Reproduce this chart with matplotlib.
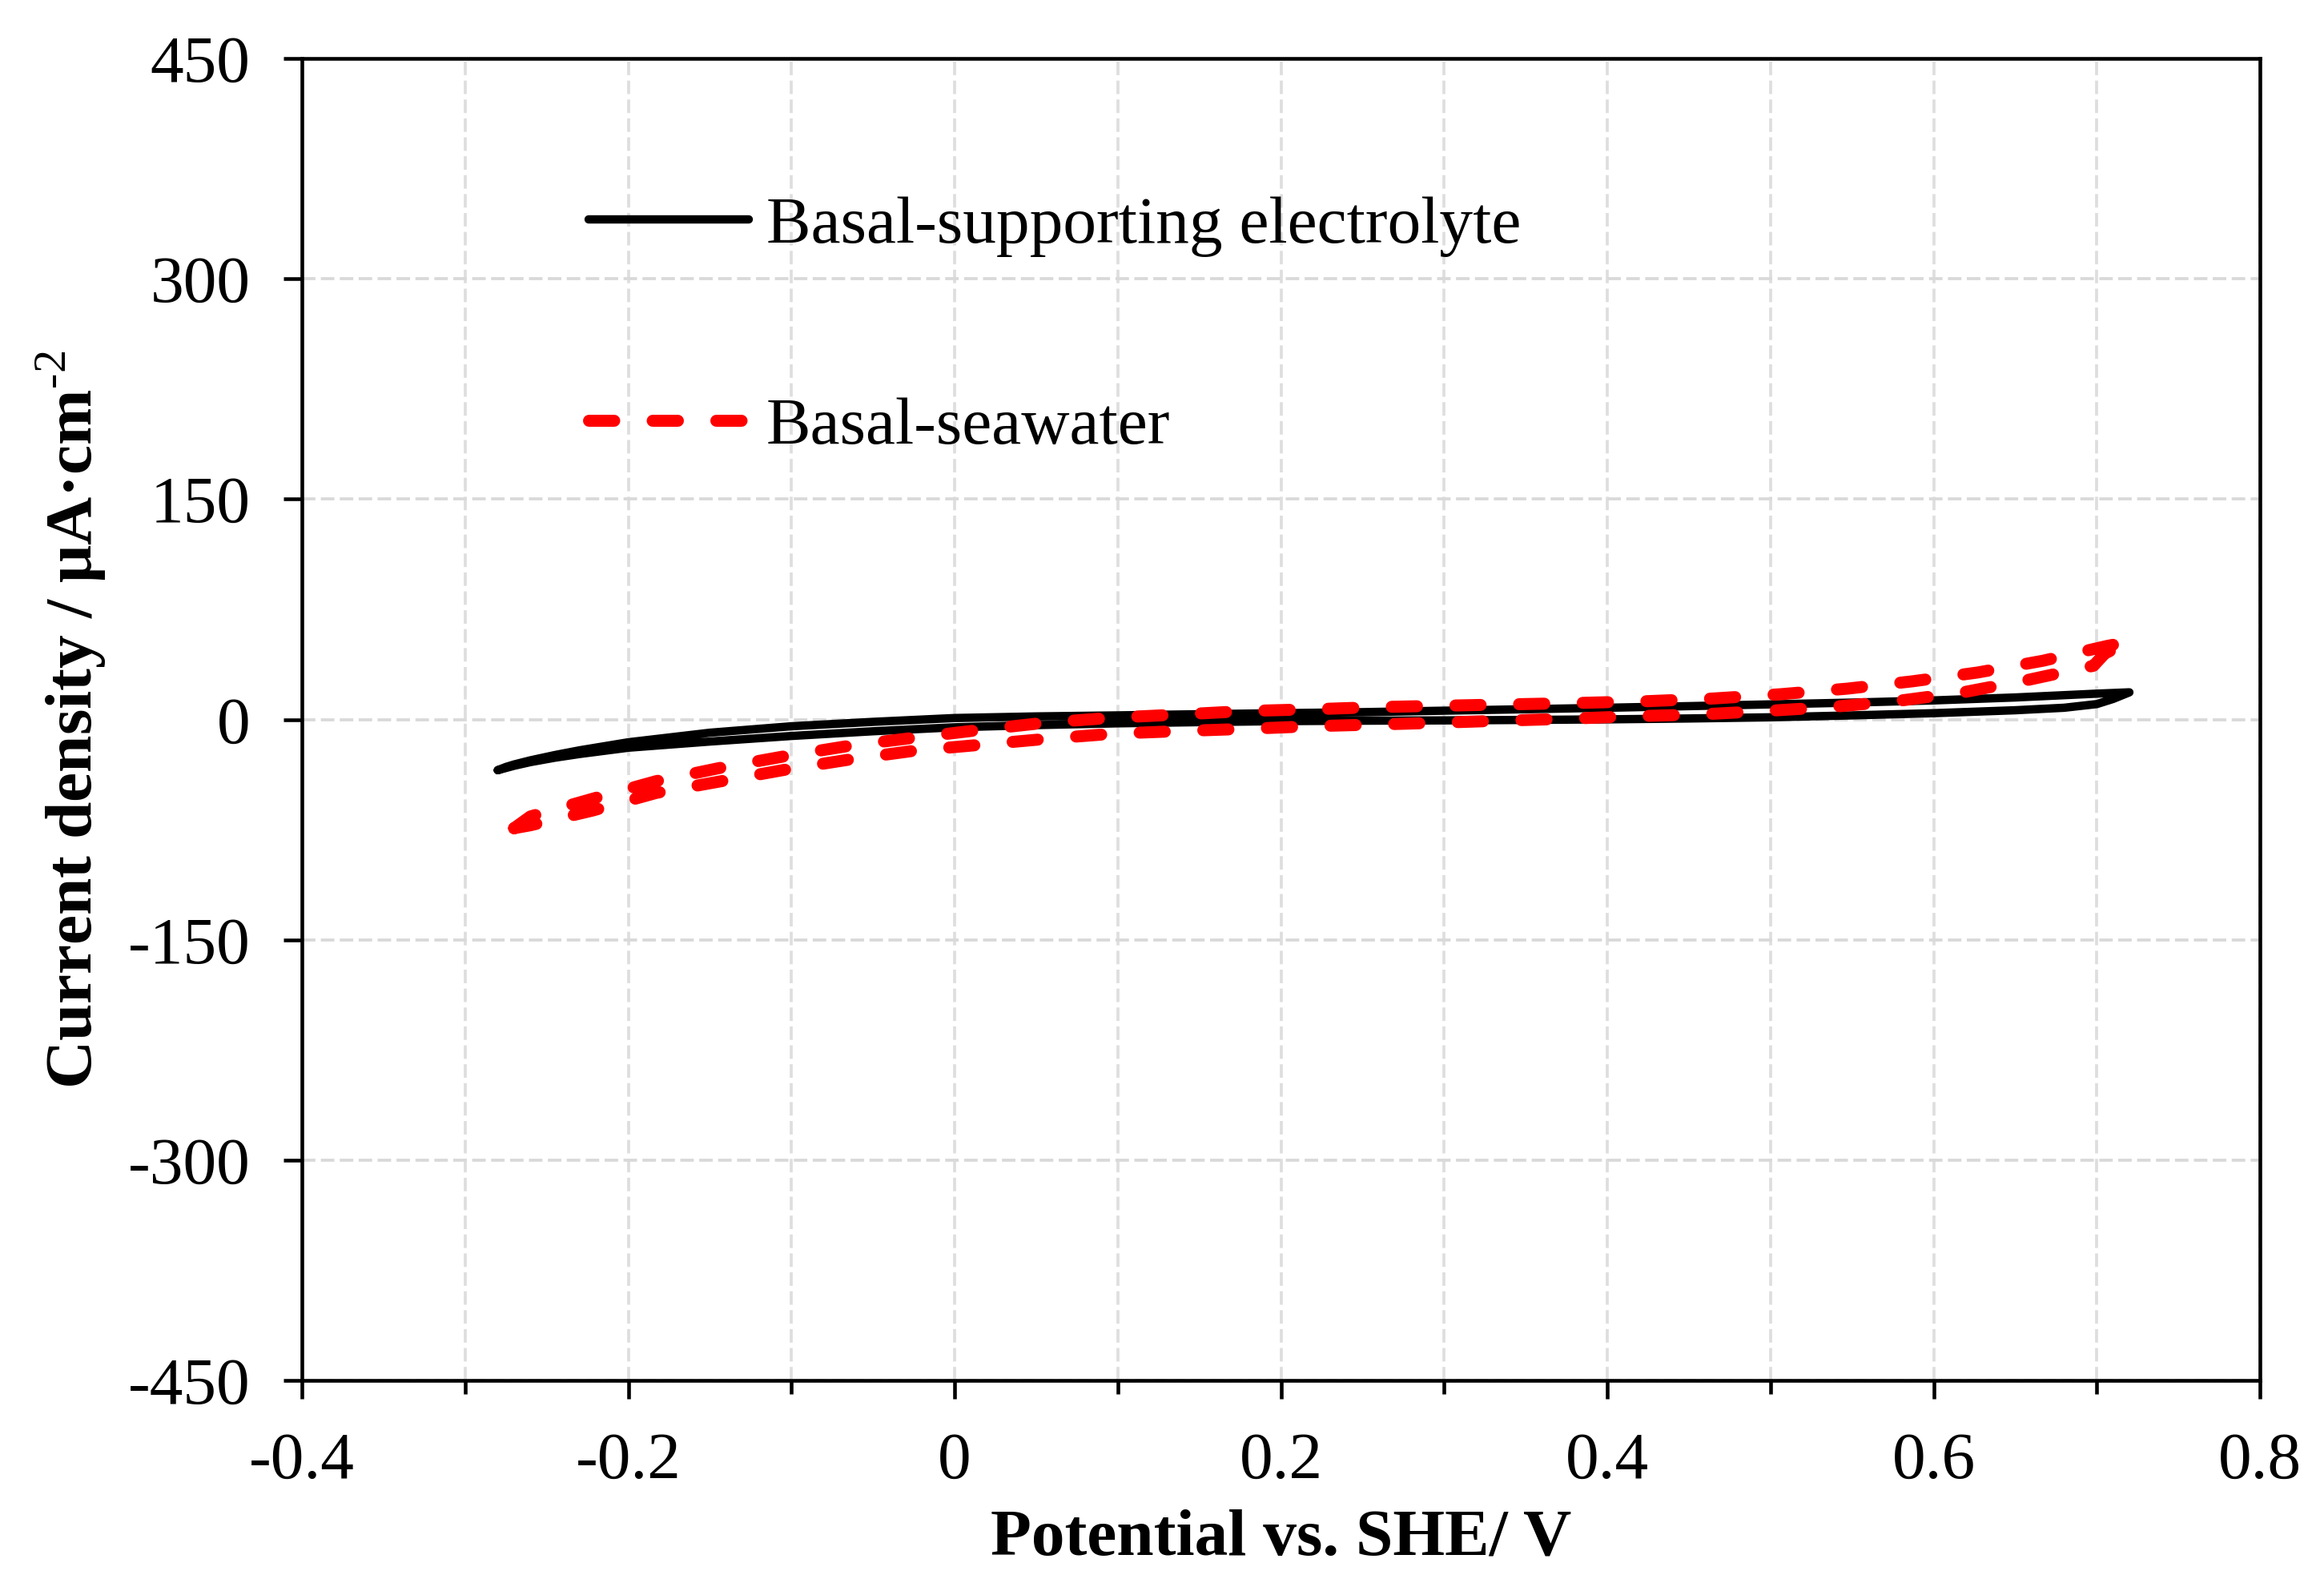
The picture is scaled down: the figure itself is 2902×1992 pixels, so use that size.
import numpy as np
import matplotlib
matplotlib.use("Agg")
import matplotlib.pyplot as plt
from matplotlib.ticker import MultipleLocator, FixedLocator

plt.rcParams['font.family'] = ['Liberation Serif', 'DejaVu Serif']
plt.rcParams['mathtext.fontset'] = 'custom'
plt.rcParams['mathtext.rm'] = 'Liberation Serif'
plt.rcParams['mathtext.bf'] = 'Liberation Serif:bold'
plt.rcParams['axes.unicode_minus'] = False

# ---- data: black (basal-supporting electrolyte) ----
black_fwd_E = [-0.28, -0.275, -0.27, -0.26, -0.245, -0.23, -0.20, -0.15, -0.10, -0.05,
               0.00, 0.05, 0.10, 0.15, 0.20, 0.25, 0.30, 0.35, 0.40, 0.45, 0.50, 0.55,
               0.60, 0.65, 0.70, 0.72]
black_fwd_j = [-34.5, -32.3, -30.6, -27.8, -24.2, -21.0, -15.5, -9.0, -4.6, -1.6,
               1.0, 2.1, 2.8, 3.6, 4.3, 5.0, 6.0, 7.0, 8.0, 9.1, 10.3, 11.5,
               13.0, 15.0, 17.6, 18.5]
black_rev_E = [0.72, 0.71, 0.70, 0.68, 0.65, 0.60, 0.55, 0.50, 0.45, 0.40, 0.35, 0.30,
               0.25, 0.20, 0.15, 0.10, 0.05, 0.00, -0.05, -0.10, -0.15, -0.20, -0.23,
               -0.245, -0.26, -0.27, -0.275, -0.28]
black_rev_j = [18.5, 14.0, 10.5, 8.0, 6.3, 4.3, 2.8, 1.5, 0.7, 0.1, -0.3, -0.6,
               -0.8, -1.1, -1.8, -2.6, -3.8, -5.3, -8.0, -11.2, -15.0, -19.2, -23.5,
               -26.0, -29.0, -31.5, -33.0, -34.5]

# ---- data: red (basal-seawater) ----
red_fwd_E = [-0.27, -0.26, -0.222, -0.183, -0.144, -0.104, -0.064, -0.024, 0.017, 0.057,
             0.098, 0.138, 0.179, 0.22, 0.261, 0.30, 0.34, 0.38, 0.425, 0.465, 0.506,
             0.547, 0.587, 0.627, 0.667, 0.706, 0.72]
red_fwd_j = [-74, -66, -54, -42, -33, -25, -17.8, -12.3, -6.9, -2.0,
             1.3, 3.4, 5.8, 7.0, 8.5, 9.4, 10.3, 11.2, 12.5, 14.3, 17.2,
             21, 26, 32, 40, 50, 53]
red_rev_E = [0.72, 0.705, 0.698, 0.658, 0.618, 0.577, 0.537, 0.497, 0.456, 0.415, 0.373,
             0.332, 0.291, 0.262, 0.221, 0.18, 0.14, 0.098, 0.058, 0.018, -0.023, -0.063,
             -0.103, -0.143, -0.183, -0.222, -0.26, -0.27]
red_rev_j = [53, 45, 36.6, 27, 18.5, 12.5, 8.5, 5.8, 3.4, 2.2, 0.4,
             -0.9, -2.4, -3.3, -4.5, -6.3, -7.8, -9.6, -13, -17, -21, -27,
             -34, -42, -50, -62, -72, -74]

x_ticks = [-0.4, -0.2, 0, 0.2, 0.4, 0.6, 0.8]
x_tick_labels = ['-0.4', '-0.2', '0', '0.2', '0.4', '0.6', '0.8']
y_ticks = [-450, -300, -150, 0, 150, 300, 450]
y_tick_labels = ['-450', '-300', '-150', '0', '150', '300', '450']

labels = ['Basal-supporting electrolyte', 'Basal-seawater']

fig = plt.figure(figsize=(2903/300, 1992/300), dpi=300)
ax = fig.add_axes([0.1299, 0.1345, 0.8422, 0.8288])

ax.plot(black_fwd_E + black_rev_E, black_fwd_j + black_rev_j, color='black', lw=2.5,
        solid_joinstyle='round', solid_capstyle='round', label=labels[0], zorder=3)
ax.plot(red_fwd_E + red_rev_E, red_fwd_j + red_rev_j, color='#ff0000', lw=3.6,
        dashes=(2.1, 3.2), dash_capstyle='round', dash_joinstyle='round',
        label=labels[1], zorder=4)

ax.set_xlim(-0.4, 0.8)
ax.set_ylim(-450, 450)
ax.xaxis.set_major_locator(FixedLocator(x_ticks))
ax.set_xticklabels(x_tick_labels)
ax.xaxis.set_minor_locator(MultipleLocator(0.1))
ax.yaxis.set_major_locator(FixedLocator(y_ticks))
ax.set_yticklabels(y_tick_labels)

ax.set_axisbelow(True)
ax.grid(True, axis='x', which='both', color='#dedede', lw=0.9, dashes=(4.5, 1.8))
ax.grid(True, axis='y', which='major', color='#d9d9d9', lw=0.9, dashes=(4.5, 1.8))

for s in ax.spines.values():
    s.set_linewidth(1.1)
ax.tick_params(axis='both', which='major', direction='out', length=5.5, width=1.1,
               labelsize=20, pad=10)
ax.tick_params(axis='x', which='minor', direction='out', length=4, width=1.1)
ax.tick_params(axis='y', which='minor', length=0)

ax.set_xlabel('Potential vs. SHE/ V', fontsize=20, fontweight='bold', labelpad=5)
ax.set_ylabel('Current density / μA·cm$^{\\text{-}2}$', fontsize=20, fontweight='bold',
              labelpad=6)

leg = ax.legend(loc='upper left', bbox_to_anchor=(0.1464, 0.896), frameon=False,
                fontsize=20, handlelength=2.4, handletextpad=0.26, labelspacing=2.1,
                borderpad=0, borderaxespad=0)

fig.savefig('out.png', dpi=300)
